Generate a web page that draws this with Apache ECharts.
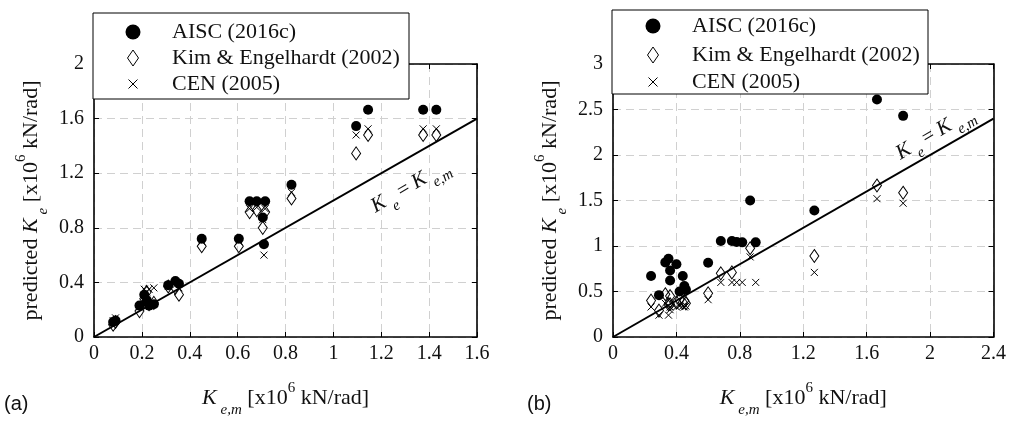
<!DOCTYPE html>
<html>
<head>
<meta charset="utf-8">
<script src="https://cdn.jsdelivr.net/npm/echarts@6/dist/echarts.min.js"></script>
<style>
  html, body { margin: 0; padding: 0; background: #fff; }
  #chart { width: 1009px; height: 423px; }
</style>
</head>
<body>
<div id="chart"></div>
<script>
// ---- panel (a): measured vs predicted elastic stiffness, x10^6 kN/rad ----
const aMeasured = [0.08, 0.09, 0.19, 0.21, 0.22, 0.23, 0.25, 0.31, 0.34, 0.355, 0.45, 0.605, 0.65, 0.68, 0.705, 0.715, 0.71, 0.825, 1.095, 1.145, 1.375, 1.43];
const aAISC     = [0.11, 0.12, 0.23, 0.31, 0.27, 0.23, 0.24, 0.38, 0.41, 0.39, 0.72, 0.72, 0.995, 0.995, 0.875, 0.995, 0.68, 1.115, 1.545, 1.665, 1.665, 1.665];
const aKim      = [0.09, 0.11, 0.19, 0.28, 0.33, 0.24, 0.25, 0.37, 0.36, 0.31, 0.665, 0.665, 0.915, 0.93, 0.80, 0.915, null, 1.015, 1.345, 1.48, 1.48, 1.48];
const aCEN      = [0.12, 0.14, 0.22, 0.35, 0.33, 0.35, 0.36, 0.37, 0.38, 0.36, 0.70, 0.70, 0.94, 0.95, 0.86, 0.94, 0.60, 1.06, 1.48, 1.525, 1.525, 1.525];

// ---- panel (b) ----
const bMeasured = [0.24, 0.29, 0.33, 0.35, 0.36, 0.36, 0.40, 0.42, 0.44, 0.45, 0.46, 0.60, 0.68, 0.75, 0.78, 0.815, 0.865, 0.90, 1.27, 1.665, 1.83];
const bAISC     = [0.67, 0.46, 0.82, 0.86, 0.73, 0.62, 0.80, 0.50, 0.67, 0.56, 0.52, 0.815, 1.055, 1.055, 1.045, 1.04, 1.50, 1.04, 1.39, 2.61, 2.43];
const bKim      = [0.40, 0.29, 0.47, 0.36, 0.36, 0.45, 0.38, 0.41, 0.38, 0.40, 0.37, 0.48, 0.70, 0.71, null, null, 0.975, null, 0.89, 1.665, 1.585];
const bCEN      = [0.33, 0.24, 0.37, 0.24, 0.33, 0.30, 0.33, 0.34, 0.34, 0.33, 0.34, 0.41, 0.60, 0.60, 0.60, 0.60, 0.88, 0.60, 0.71, 1.52, 1.47];

// ---- axis ticks ----
const aXTicks = [0, 0.2, 0.4, 0.6, 0.8, 1, 1.2, 1.4, 1.6];
const aYTicks = [0, 0.4, 0.8, 1.2, 1.6, 2];
const bXTicks = [0, 0.4, 0.8, 1.2, 1.6, 2, 2.4];
const bYTicks = [0, 0.5, 1, 1.5, 2, 2.5, 3];

const seriesNames = ['AISC (2016c)', 'Kim & Engelhardt (2002)', 'CEN (2005)'];
const panelTags = ['(a)', '(b)'];
// where the K_e = K_e,m annotation sits along the 1:1 line (data units)
const aLineTagAt = [1.32, 1.105];
const bLineTagAt = [2.03, 2.24];

const SERIF = 'Liberation Serif';
const INK = '#111';
const DIAMOND = 'path://M5,0L10,7L5,14L0,7Z';
const CROSS = 'path://M0,0L10,10M10,0L0,10';

// rich-text styles: regular, italic, subscript, superscript
function rich(size, small, extra) {
  const lh = size + extra;
  return {
    r:  { fontFamily: SERIF, fontSize: size, color: INK, lineHeight: lh, verticalAlign: 'middle' },
    i:  { fontFamily: SERIF, fontStyle: 'italic', fontSize: size, color: INK, lineHeight: lh, verticalAlign: 'middle' },
    sb: { fontFamily: SERIF, fontStyle: 'italic', fontSize: small, color: INK, lineHeight: small, verticalAlign: 'bottom', padding: [0, 0, 0, 4] },
    sp: { fontFamily: SERIF, fontSize: small, color: INK, lineHeight: small, verticalAlign: 'top', padding: [3, 0, 0, 0] }
  };
}

function pairs(xs, ys) {
  const out = [];
  xs.forEach((x, k) => { if (ys[k] != null) out.push([x, ys[k]]); });
  return out;
}

function step(ticks) { return +(ticks[1] - ticks[0]).toFixed(6); }

function axesFor(idx, xt, yt) {
  const common = {
    gridIndex: idx,
    type: 'value',
    axisLine: { show: true, onZero: false, lineStyle: { color: '#000', width: 1.6 } },
    axisTick: { show: true, inside: true, length: 5, lineStyle: { color: '#000', width: 1 } }
  };
  const grid = { show: true, lineStyle: { color: '#d0d0d0', type: [8, 5], width: 1 } };
  const xs = [
    Object.assign({}, common, {
      position: 'bottom', min: xt[0], max: xt[xt.length - 1], interval: step(xt),
      axisLabel: { fontFamily: SERIF, fontSize: 20, color: INK, margin: 7 },
      splitLine: grid,
      name: '{i|K}{sb|e,m}{r| [x10}{sp|6}{r| kN/rad]}',
      nameLocation: 'middle', nameGap: 41,
      nameTextStyle: { rich: rich(22, 15, 18) }
    }),
    Object.assign({}, common, {
      position: 'top', min: xt[0], max: xt[xt.length - 1], interval: step(xt),
      axisLabel: { show: false }, splitLine: { show: false }
    })
  ];
  const ys = [
    Object.assign({}, common, {
      position: 'left', min: yt[0], max: yt[yt.length - 1], interval: step(yt),
      axisLabel: { fontFamily: SERIF, fontSize: 20, color: INK, margin: 10 },
      splitLine: grid,
      name: '{r|predicted }{i|K}{sb|e}{r| [x10}{sp|6}{r| kN/rad]}',
      nameLocation: 'middle', nameGap: 43,
      nameTextStyle: { rich: rich(22, 15, 18) }
    }),
    Object.assign({}, common, {
      position: 'right', min: yt[0], max: yt[yt.length - 1], interval: step(yt),
      axisLabel: { show: false }, splitLine: { show: false }
    })
  ];
  return { xs, ys };
}

function seriesFor(idx, xMeas, aisc, kim, cen, xt, tagAt) {
  const ax = { xAxisIndex: idx * 2, yAxisIndex: idx * 2 };
  const lo = xt[0], hi = xt[xt.length - 1];
  return [
    Object.assign({
      type: 'line', data: [[lo, lo], [hi, hi]], symbol: 'none', silent: true, z: 2,
      lineStyle: { color: '#000', width: 2 }
    }, ax),
    Object.assign({
      type: 'scatter', name: seriesNames[0], data: pairs(xMeas, aisc), z: 3,
      symbol: 'circle', symbolSize: 10, itemStyle: { color: '#000', opacity: 1 }
    }, ax),
    Object.assign({
      type: 'scatter', name: seriesNames[1], data: pairs(xMeas, kim), z: 4,
      symbol: DIAMOND, symbolSize: [9, 13], symbolKeepAspect: false,
      itemStyle: { color: 'rgba(255,255,255,0)', borderColor: '#000', borderWidth: 1, opacity: 1 }
    }, ax),
    Object.assign({
      type: 'scatter', name: seriesNames[2], data: pairs(xMeas, cen), z: 5,
      symbol: CROSS, symbolSize: 7,
      itemStyle: { color: 'rgba(255,255,255,0)', borderColor: '#000', borderWidth: 1, opacity: 1 }
    }, ax),
    Object.assign({
      type: 'scatter', data: [tagAt], symbolSize: 1, silent: true, z: 6,
      itemStyle: { color: 'rgba(0,0,0,0)', opacity: 1 },
      label: {
        show: true, position: 'inside', rotate: 30.5, color: INK, opacity: 1,
        formatter: '{i|K}{sb|e}{r| = }{i|K}{sb|e,m}',
        rich: rich(21, 15, 14)
      }
    }, ax)
  ];
}

// Boxed key in the upper-left corner of a panel: marker column + label column
function keyBox(x, y, w, h, markX, textX, rows) {
  const Z = 100;
  const kids = [
    { type: 'rect', z: Z, shape: { x: x, y: y, width: w, height: h },
      style: { fill: '#fff', stroke: '#000', lineWidth: 1 } }
  ];
  const [r0, r1, r2] = rows.map(r => y + r);
  kids.push({ type: 'circle', z: Z + 1, shape: { cx: markX, cy: r0, r: 7.5 }, style: { fill: '#000' } });
  kids.push({ type: 'polygon', z: Z + 1, shape: { points: [[markX, r1 - 8], [markX + 5.5, r1], [markX, r1 + 8], [markX - 5.5, r1]] },
              style: { fill: 'none', stroke: '#000', lineWidth: 1 } });
  kids.push({ type: 'line', z: Z + 1, shape: { x1: markX - 4.5, y1: r2 - 4.5, x2: markX + 4.5, y2: r2 + 4.5 }, style: { stroke: '#000', lineWidth: 1 } });
  kids.push({ type: 'line', z: Z + 1, shape: { x1: markX + 4.5, y1: r2 - 4.5, x2: markX - 4.5, y2: r2 + 4.5 }, style: { stroke: '#000', lineWidth: 1 } });
  [r0, r1, r2].forEach((ry, k) => {
    kids.push({ type: 'text', z: Z + 1, style: { text: seriesNames[k], x: textX, y: ry, verticalAlign: 'middle',
                font: '22px "' + SERIF + '"', fill: INK } });
  });
  return { type: 'group', z: Z, silent: true, children: kids };
}

const A = axesFor(0, aXTicks, aYTicks);
const B = axesFor(1, bXTicks, bYTicks);

const chart = echarts.init(document.getElementById('chart'), null, { renderer: 'canvas' });
chart.setOption({
  animation: false,
  backgroundColor: '#fff',
  grid: [
    { left: 94, top: 64, width: 383, height: 283 },
    { left: 613, top: 64, width: 384, height: 282 }
  ],
  xAxis: A.xs.concat(B.xs),
  yAxis: A.ys.concat(B.ys),
  series: seriesFor(0, aMeasured, aAISC, aKim, aCEN, aXTicks, aLineTagAt)
    .concat(seriesFor(1, bMeasured, bAISC, bKim, bCEN, bXTicks, bLineTagAt)),
  graphic: [
    keyBox(93, 13, 316, 86, 133, 172, [19, 45, 71]),
    keyBox(612, 10, 316, 84, 653, 692, [16, 45, 72]),
    { type: 'text', left: 4, top: 394, style: { text: panelTags[0], font: '20px "Liberation Sans"', fill: INK } },
    { type: 'text', left: 527, top: 394, style: { text: panelTags[1], font: '20px "Liberation Sans"', fill: INK } }
  ]
});
</script>
</body>
</html>
